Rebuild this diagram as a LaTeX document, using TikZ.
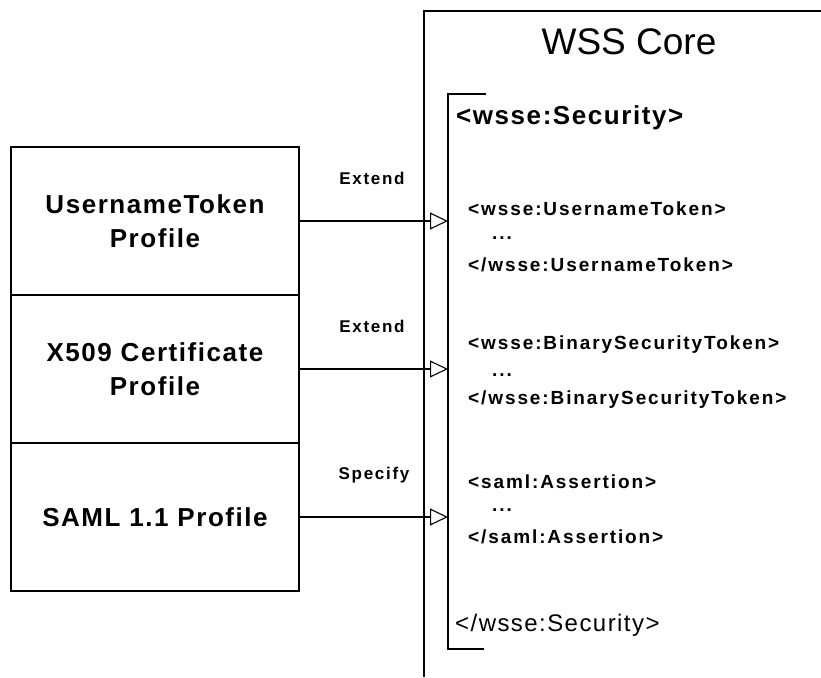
\documentclass[tikz,border=0pt]{standalone}
\usepackage{fontspec}
\setmainfont{Liberation Sans}
\newfontfamily\widesans[LetterSpace=6]{Liberation Sans}
\newfontfamily\widertag[LetterSpace=10]{Liberation Sans}
\usetikzlibrary{positioning}
\usetikzlibrary{arrows.meta}

\tikzset{
  profile/.style={rectangle,draw=black,line width=1.1pt,minimum width=288pt,minimum height=148pt,
    inner sep=0pt,outer sep=0pt,align=center,font=\fontsize{26}{34}\widesans\bfseries},
  relation/.style={inner sep=0pt,font=\fontsize{17}{20}\widertag\bfseries},
  xmltag/.style={anchor=west,inner sep=0pt,font=\fontsize{19}{22}\widertag\bfseries},
  extends/.style={line width=1.1pt,-{Triangle[open,length=18pt,width=17pt,line width=1.1pt]}}
}

\begin{document}
\begin{tikzpicture}[x=1pt,y=-1pt]
\useasboundingbox (0,0) rectangle (821,677);

% WSS core frame
\coordinate (corenw) at (424,11);
\draw[line width=1.1pt] (821,11) -- (corenw) -- (424,677);
\node[inner sep=0pt,font=\fontsize{37}{42}\selectfont] (core) at (629,42) {WSS Core};

% security bracket
\coordinate (brktop) at (448,94);
\coordinate (brkbot) at (448,649);
\draw[line width=1.1pt] (486,94) -- (brktop) -- (brkbot) -- (484,649);

% profiles
\node[profile] (utp) at (155,221) {UsernameToken\\Profile};
\node[profile,below=0pt of utp] (x509p) {X509 Certificate\\Profile};
\node[profile,below=0pt of x509p] (samlp) {SAML 1.1 Profile};

% relations
\draw[extends] (utp.east) -- (utp.east -| brktop);
\draw[extends] (x509p.east) -- (x509p.east -| brktop);
\draw[extends] (samlp.east) -- (samlp.east -| brktop);
\node[relation] (ext1) at (372,178) {Extend};
\node[relation] (ext2) at (372,326) {Extend};
\node[relation] (spec) at (374,475) {Specify};

% security header content
\node[xmltag,font=\fontsize{26}{30}\widesans\bfseries] (secopen) at (456,118) {<wsse:Security>};
\node[xmltag] (unopen) at (468,209) {<wsse:UsernameToken>};
\node[xmltag] (undots) at (492,238) {...};
\node[xmltag] (unclose) at (468,265) {</wsse:UsernameToken>};
\node[xmltag] (bstopen) at (468,345) {<wsse:BinarySecurityToken>};
\node[xmltag] (bstdots) at (492,375) {...};
\node[xmltag] (bstclose) at (468,400) {</wsse:BinarySecurityToken>};
\node[xmltag] (samlopen) at (468,482) {<saml:Assertion>};
\node[xmltag] (samldots) at (492,510) {...};
\node[xmltag] (samlclose) at (468,537) {</saml:Assertion>};
\node[xmltag,font=\fontsize{24}{28}\widesans] (secclose) at (455,625) {</wsse:Security>};

\end{tikzpicture}
\end{document}
